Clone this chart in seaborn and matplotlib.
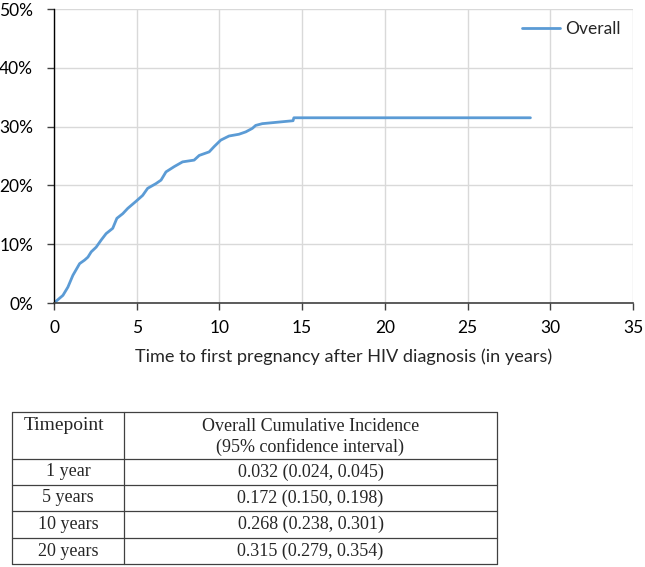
import matplotlib
matplotlib.use("Agg")
import matplotlib.pyplot as plt
import seaborn as sns
import pandas as pd
from matplotlib.lines import Line2D

# ---- data ----
years = [0.0, 0.54, 0.84, 1.14, 1.55, 1.85, 2.05, 2.25, 2.55, 2.85, 3.15, 3.55,
         3.8, 4.16, 4.46, 4.96, 5.36, 5.66, 6.16, 6.47, 6.77, 7.27, 7.77, 8.47,
         8.78, 9.38, 9.68, 10.08, 10.58, 11.18, 11.59, 11.99, 12.19, 12.59,
         14.45, 14.5, 28.8]
incidence = [0.0, 1.3, 2.7, 4.7, 6.7, 7.3, 7.8, 8.7, 9.5, 10.7, 11.8, 12.7,
             14.4, 15.2, 16.1, 17.3, 18.3, 19.5, 20.3, 20.9, 22.3, 23.2, 24.0, 24.3,
             25.1, 25.7, 26.6, 27.7, 28.4, 28.7, 29.1, 29.7, 30.2, 30.5,
             31.0, 31.5, 31.5]
series_name = "Overall"

x_ticks = [0, 5, 10, 15, 20, 25, 30, 35]
y_ticks = [0, 10, 20, 30, 40, 50]
x_label = "Time to first pregnancy after HIV diagnosis (in years)"

table_header = ["Timepoint", "Overall Cumulative Incidence\n(95% confidence interval)"]
timepoints = ["1 year", "5 years", "10 years", "20 years"]
estimates = ["0.032 (0.024, 0.045)", "0.172 (0.150, 0.198)",
             "0.268 (0.238, 0.301)", "0.315 (0.279, 0.354)"]

# ---- figure ----
sns.set_theme(style="white")
plt.rcParams['font.family'] = ['Lato', 'DejaVu Sans']

W, H = 645, 567
fig = plt.figure(figsize=(W / 100, H / 100), dpi=100)
ax = fig.add_axes([54 / W, 1 - 303 / H, (633 - 54) / W, (303 - 9) / H])

df = pd.DataFrame({"years": years, "incidence": incidence, "series": series_name})
blue = "#5B9BD5"
sns.lineplot(data=df, x="years", y="incidence", ax=ax, color=blue, lw=2.0,
             estimator=None, sort=False, legend=False)

fs_chart = 12.5
ax.set_xlim(0, 35)
ax.set_ylim(0, 50)
ax.set_xticks(x_ticks)
ax.set_yticks(y_ticks)
ax.set_yticklabels([f"{v}%" for v in y_ticks], fontsize=fs_chart)
ax.set_xticklabels([str(v) for v in x_ticks], fontsize=fs_chart)
ax.set_xlabel(x_label, fontsize=13.1, labelpad=9)
ax.set_ylabel("")
ax.grid(True, color="#D9D9D9", lw=1)
for s in ["top", "right"]:
    ax.spines[s].set_visible(False)
ax.spines["left"].set_color("#000000")
ax.spines["bottom"].set_color("#404040")
ax.spines["left"].set_linewidth(1)
ax.spines["bottom"].set_linewidth(1.2)
ax.tick_params(axis="both", which="major", direction="out", length=5, width=1,
               color="#404040", bottom=True, left=True, labelcolor="black")
ax.tick_params(axis="x", pad=7)
ax.tick_params(axis="y", pad=10)

handle = Line2D([0], [0], color=blue, lw=2.0)
ax.legend([handle], [series_name], loc="upper right", frameon=False,
          fontsize=fs_chart, handlelength=2.2, handletextpad=0.3,
          borderaxespad=0.3, bbox_to_anchor=(1.0, 1.0))

# ---- table drawn in pixel coords ----
def fx(px):
    return px / W

def fy(py):
    return 1 - py / H

left, mid, right = 12, 124, 497
rows_y = [412, 459, 485, 511, 538, 564]
lc = "#404040"
for yy in rows_y:
    fig.add_artist(Line2D([fx(left), fx(right)], [fy(yy), fy(yy)], color=lc, lw=0.9))
for xx in [left, mid, right]:
    fig.add_artist(Line2D([fx(xx), fx(xx)], [fy(rows_y[0]), fy(rows_y[-1])], color=lc, lw=0.9))

serif = ['Liberation Serif', 'DejaVu Serif']
fs = 13
fig.text(fx(24), fy(426), table_header[0], family=serif, fontsize=14,
         ha="left", va="center")
fig.text(fx((mid + right) / 2), fy(437), table_header[1], family=serif,
         fontsize=fs, ha="center", va="center", linespacing=1.25)
for i, (tp, est) in enumerate(zip(timepoints, estimates)):
    yc = (rows_y[i + 1] + rows_y[i + 2]) / 2
    fig.text(fx((left + mid) / 2), fy(yc), tp, family=serif, fontsize=fs,
             ha="center", va="center")
    fig.text(fx((mid + right) / 2), fy(yc), est, family=serif, fontsize=fs,
             ha="center", va="center")

fig.savefig("out.png", dpi=100, facecolor="white")
